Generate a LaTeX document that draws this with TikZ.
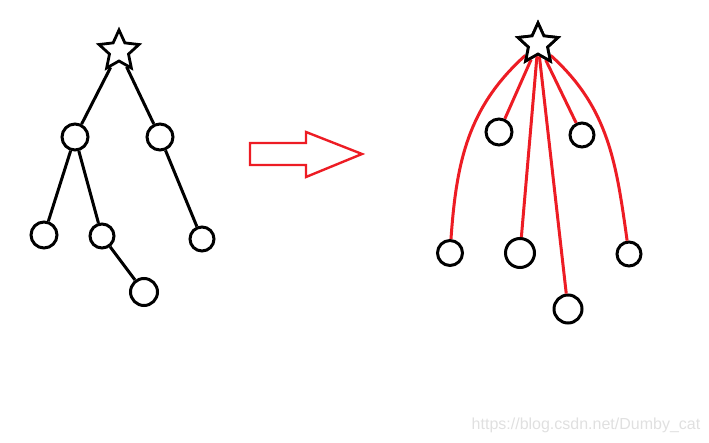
\documentclass[tikz,border=0pt]{standalone}
\usepackage{fontspec}
\usepackage{tikz}
\usetikzlibrary{shapes.geometric}
\newfontfamily\markfont{Liberation Sans}
\definecolor{paintred}{RGB}{237,28,36}

\begin{document}
\begin{tikzpicture}[x=1pt, y=1pt,
		knot/.style={draw, circle, line width=3pt, inner sep=0pt},
		root/.style={draw, star, star points=5, star point ratio=2.1, minimum size=42pt, inner sep=0pt, line width=2.8pt},
		edge/.style={line width=3pt},
		redge/.style={line width=3pt, paintred}]
			%%%%% START %%%%%
			\useasboundingbox (0, 0) rectangle (709, 442);
			
			% tree before
			\node[root] (s) at (119, 391) {};
			\node[knot, minimum size=26pt] (a) at (75, 305) {};
			\node[knot, minimum size=26pt] (b) at (160, 305) {};
			\node[knot, minimum size=26pt] (c) at (44, 207) {};
			\node[knot, minimum size=24pt] (d) at (102, 206) {};
			\node[knot, minimum size=24pt] (e) at (202, 203) {};
			\node[knot, minimum size=27pt] (f) at (144, 150) {};
			
			\draw[edge] (s) -- (a);
			\draw[edge] (s) -- (b);
			\draw[edge] (a) -- (c);
			\draw[edge] (a) -- (d);
			\draw[edge] (d) -- (f);
			\draw[edge] (b) -- (e);
			
			% arrow
			\draw[line width=2.4pt, paintred, fill=white] (250, 277) -- (250, 299) -- (306, 299) -- (306, 310)
				-- (362, 288) -- (306, 265) -- (306, 277) -- cycle;
			
			% tree after
			\node[knot, minimum size=26pt] (g) at (499, 310) {};
			\node[knot, minimum size=24pt] (h) at (582, 307) {};
			\node[knot, minimum size=25pt] (i) at (450, 189) {};
			\node[knot, minimum size=29pt] (j) at (520, 189) {};
			\node[knot, minimum size=24pt] (k) at (629, 188) {};
			\node[knot, minimum size=28pt] (l) at (568, 133) {};
			\node[root] (t) at (538, 398) {};
			
			\draw[redge] (t) to[out=222, in=86] (i);
			\draw[redge] (t) -- (g);
			\draw[redge] (t) -- (j);
			\draw[redge] (t) -- (l);
			\draw[redge] (t) -- (h);
			\draw[redge] (t) to[out=-42, in=98] (k);
			\node[root, fill=white] at (538, 398) {};
			
			\node[text=black!12, font=\markfont\fontsize{16}{19}\selectfont] (mark) at (586, 17) {https://blog.csdn.net/Dumby\_cat};
			%%%%% END %%%%%
		\end{tikzpicture}
\end{document}
